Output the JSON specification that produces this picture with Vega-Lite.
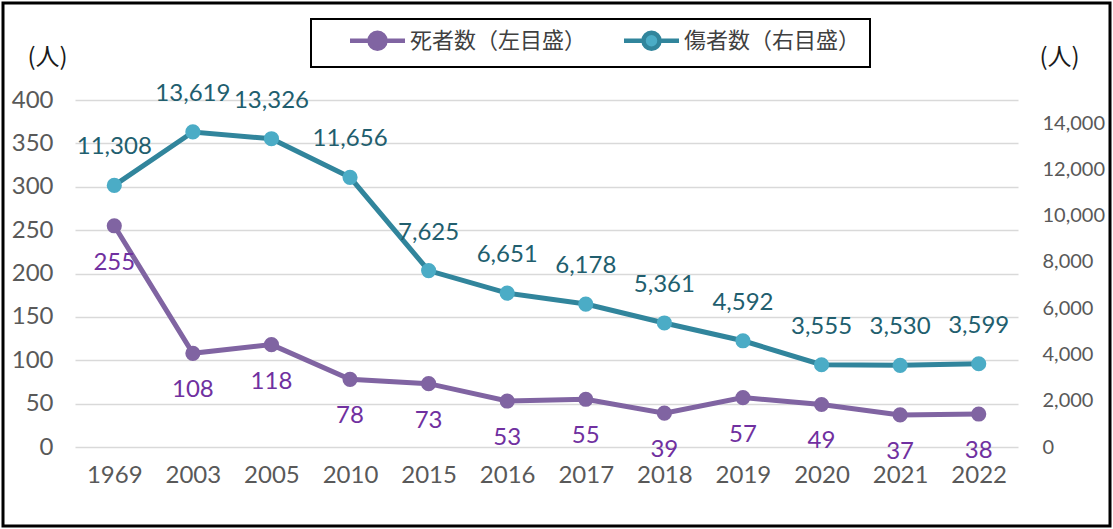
{
  "$schema": "https://vega.github.io/schema/vega-lite/v6.json",
  "width": 1107,
  "height": 523,
  "autosize": {"type": "none"},
  "padding": {"left": 3, "top": 3, "right": 3, "bottom": 3},
  "background": "white",
  "config": {
    "view": {"stroke": "black", "strokeWidth": 3},
    "axis": {"labelFont": "Lato", "labelColor": "#595959", "titleFont": "Noto Sans CJK JP", "titleColor": "#1a1a1a", "titleFontWeight": "normal"}
  },
  "data": {
    "values": [
      {"year": "1969", "series": "死者数（左目盛）", "value": 255},
      {"year": "2003", "series": "死者数（左目盛）", "value": 108},
      {"year": "2005", "series": "死者数（左目盛）", "value": 118},
      {"year": "2010", "series": "死者数（左目盛）", "value": 78},
      {"year": "2015", "series": "死者数（左目盛）", "value": 73},
      {"year": "2016", "series": "死者数（左目盛）", "value": 53},
      {"year": "2017", "series": "死者数（左目盛）", "value": 55},
      {"year": "2018", "series": "死者数（左目盛）", "value": 39},
      {"year": "2019", "series": "死者数（左目盛）", "value": 57},
      {"year": "2020", "series": "死者数（左目盛）", "value": 49},
      {"year": "2021", "series": "死者数（左目盛）", "value": 37},
      {"year": "2022", "series": "死者数（左目盛）", "value": 38},
      {"year": "1969", "series": "傷者数（右目盛）", "value": 11308},
      {"year": "2003", "series": "傷者数（右目盛）", "value": 13619},
      {"year": "2005", "series": "傷者数（右目盛）", "value": 13326},
      {"year": "2010", "series": "傷者数（右目盛）", "value": 11656},
      {"year": "2015", "series": "傷者数（右目盛）", "value": 7625},
      {"year": "2016", "series": "傷者数（右目盛）", "value": 6651},
      {"year": "2017", "series": "傷者数（右目盛）", "value": 6178},
      {"year": "2018", "series": "傷者数（右目盛）", "value": 5361},
      {"year": "2019", "series": "傷者数（右目盛）", "value": 4592},
      {"year": "2020", "series": "傷者数（右目盛）", "value": 3555},
      {"year": "2021", "series": "傷者数（右目盛）", "value": 3530},
      {"year": "2022", "series": "傷者数（右目盛）", "value": 3599}
    ]
  },
  "encoding": {
    "x": {
      "field": "year",
      "type": "ordinal",
      "sort": null,
      "scale": {"type": "point", "range": [72, 1015], "padding": 0.5},
      "axis": {"title": null, "orient": "bottom", "offset": -79, "domain": false, "ticks": false, "grid": false, "labelFontSize": 24, "labelPadding": 16, "labelAngle": 0}
    }
  },
  "layer": [
    {
      "transform": [{"filter": "datum.series === '死者数（左目盛）'"}],
      "encoding": {
        "y": {
          "field": "value",
          "type": "quantitative",
          "scale": {"domain": [0, 400], "range": [444, 97], "nice": false, "zero": true},
          "axis": {
            "orient": "left",
            "offset": -72,
            "values": [0, 50, 100, 150, 200, 250, 300, 350, 400],
            "domain": false,
            "ticks": false,
            "grid": true,
            "gridColor": "#d9d9d9",
            "gridWidth": 1.5,
            "labelFontSize": 24,
            "labelPadding": 22,
            "title": "(人)",
            "titleAngle": 0,
            "titleFontSize": 24,
            "titleAlign": "center",
            "titleBaseline": "middle",
            "titleX": -28,
            "titleY": 54
          }
        }
      },
      "layer": [
        {
          "mark": {"type": "line", "strokeWidth": 5},
          "encoding": {
            "color": {
              "field": "series",
              "type": "nominal",
              "scale": {"domain": ["死者数（左目盛）", "傷者数（右目盛）"], "range": ["#8064A2", "#31859C"]},
              "legend": {
                "title": null,
                "orient": "none",
                "legendX": 308,
                "legendY": 16,
                "direction": "horizontal",
                "strokeColor": "#000000",
                "padding": 9,
                "labelFont": "Noto Sans CJK JP",
                "labelFontSize": 22,
                "labelColor": "#404040",
                "labelLimit": 400,
                "symbolType": "M1.75,0L3.7,0M5.3,0L7.25,0M3.7,0A0.8,0.8 0 1,1 5.3,0A0.8,0.8 0 1,1 3.7,0Z",
                "symbolSize": 400,
                "symbolStrokeWidth": 4.5,
                "labelOffset": 65,
                "columnPadding": 7,
                "encode": {
                  "symbols": {"update": {"fill": {"signal": "datum.value === '傷者数（右目盛）' ? '#4BACC6' : '#8064A2'"}, "fillOpacity": {"value": 1}, "opacity": {"value": 1}}},
                  "legend": {"update": {"strokeWidth": {"value": 2}}}
                }
              }
            }
          }
        },
        {"mark": {"type": "point", "filled": true, "size": 230, "opacity": 1, "color": "#8064A2"}},
        {
          "mark": {"type": "text", "dy": 37, "fontSize": 24, "font": "Lato", "color": "#7030A0", "baseline": "middle"},
          "encoding": {"text": {"field": "value", "type": "quantitative", "format": "d"}}
        }
      ]
    },
    {
      "transform": [{"filter": "datum.series === '傷者数（右目盛）'"}],
      "encoding": {
        "y": {
          "field": "value",
          "type": "quantitative",
          "scale": {"domain": [0, 15000], "range": [444, 97], "nice": false, "zero": true},
          "axis": {
            "orient": "right",
            "offset": -92,
            "values": [0, 2000, 4000, 6000, 8000, 10000, 12000, 14000],
            "labelExpr": "format(datum.value, ',')",
            "domain": false,
            "ticks": false,
            "grid": false,
            "labelFontSize": 20,
            "labelPadding": 24,
            "title": "(人)",
            "titleAngle": 0,
            "titleFontSize": 24,
            "titleAlign": "center",
            "titleBaseline": "middle",
            "titleX": 41,
            "titleY": 54
          }
        }
      },
      "layer": [
        {
          "mark": {"type": "line", "strokeWidth": 5},
          "encoding": {
            "color": {"field": "series", "type": "nominal"}
          }
        },
        {"mark": {"type": "point", "filled": true, "size": 230, "opacity": 1, "color": "#4BACC6"}},
        {
          "mark": {"type": "text", "dy": -38, "fontSize": 24, "font": "Lato", "color": "#215E6E", "baseline": "middle"},
          "encoding": {"text": {"field": "value", "type": "quantitative", "format": ","}}
        }
      ]
    }
  ],
  "resolve": {"scale": {"y": "independent"}}
}
